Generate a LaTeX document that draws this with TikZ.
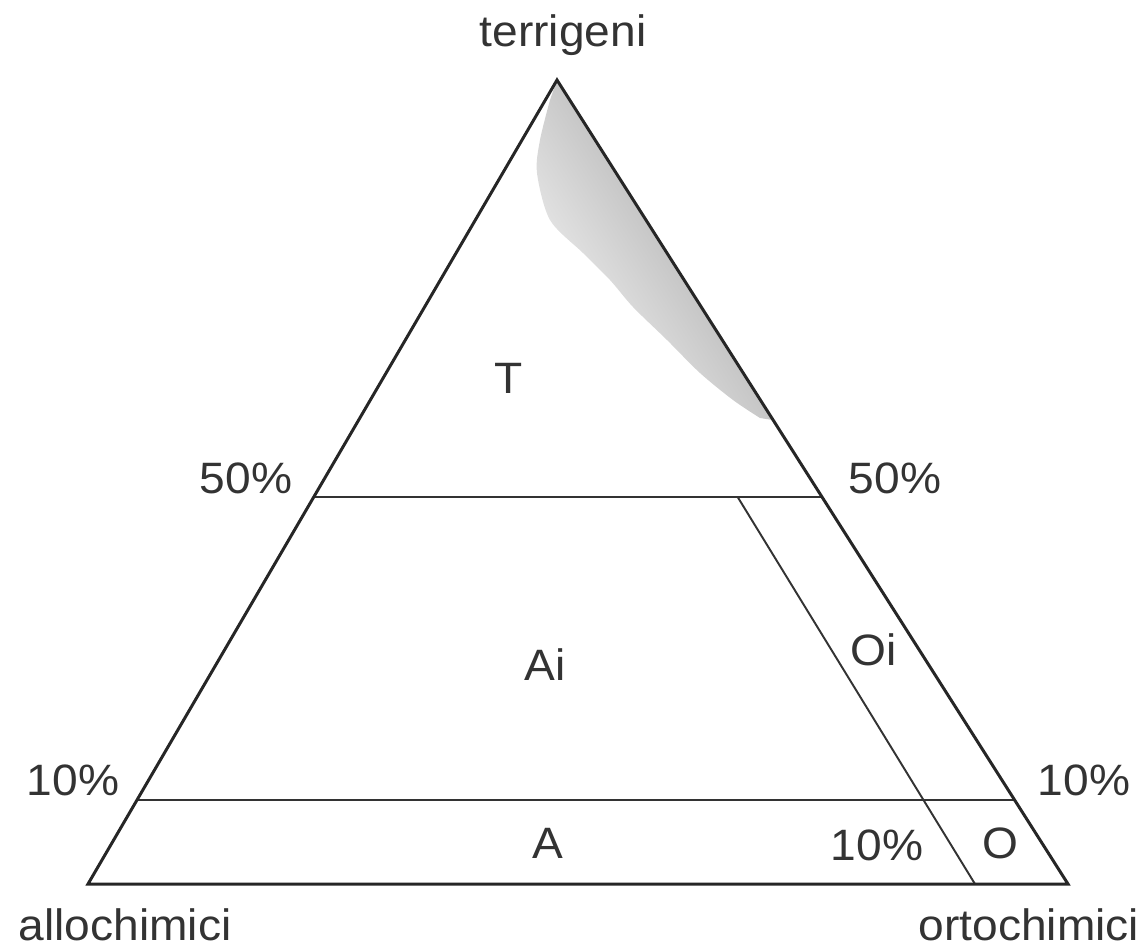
\documentclass[tikz,border=0pt]{standalone}
\usepackage{fontspec}
\usepackage{graphicx}
\setmainfont{Liberation Sans}
\usetikzlibrary{calc}
\newcommand{\wtxt}[1]{\scalebox{1.05}[1]{#1}}
\begin{document}
\begin{tikzpicture}[x=0.02cm,y=-0.02cm,
  outline/.style={line width=1.7pt,black!85,line join=miter},
  inner/.style={line width=1.1pt,black!80},
  lab/.style={inner sep=0pt,anchor=base,font=\fontsize{25}{29}\selectfont,text=black!80}]
\useasboundingbox (0,0) rectangle (1143,947);
\coordinate (top) at (557,80);
\coordinate (bl) at (88,884);
\coordinate (br) at (1068,884);
\coordinate (fl) at ($(top)!0.5187!(bl)$);
\coordinate (fr) at ($(top)!0.5187!(br)$);
\coordinate (tl) at ($(top)!0.8955!(bl)$);
\coordinate (tr) at ($(top)!0.8955!(br)$);
\coordinate (s1) at ($(fl)!0.834!(fr)$);
\coordinate (s2) at (975,884);
\coordinate (shend) at ($(top)!0.423!(br)$);
% shading
\shade[top color=black!38, bottom color=black!4, shading angle=-58] (top) -- plot[smooth] coordinates {(550,100) (540,140) (537,173) (550,220) (583,253) (610,280) (633,307) (667,340) (700,373) (733,400) (760,418)} -- (shend) -- cycle;
% lines
\draw[inner] (fl) -- (fr);
\draw[inner] (tl) -- (tr);
\draw[inner] (s1) -- (s2);
\draw[outline] (top) -- (bl) -- (br) -- cycle;
% labels
\node[lab] (terr) at (563,46) {\wtxt{terrigeni}};
\node[lab] (allo) at (125,940) {\wtxt{allochimici}};
\node[lab] (orto) at (1029,940) {\wtxt{ortochimici}};
\node[lab] (p50l) at (246,493) {\wtxt{50\%}};
\node[lab] (p50r) at (895,493) {\wtxt{50\%}};
\node[lab] (p10l) at (73,795) {\wtxt{10\%}};
\node[lab] (p10r) at (1084,795) {\wtxt{10\%}};
\node[lab] (p10b) at (877,860) {\wtxt{10\%}};
\node[lab] (T) at (509,393) {\wtxt{T}};
\node[lab] (Ai) at (545,680) {\wtxt{Ai}};
\node[lab] (Oi) at (874,665) {\wtxt{Oi}};
\node[lab] (A) at (548,858) {\wtxt{A}};
\node[lab] (O) at (1000,858) {\wtxt{O}};
\end{tikzpicture}
\end{document}
